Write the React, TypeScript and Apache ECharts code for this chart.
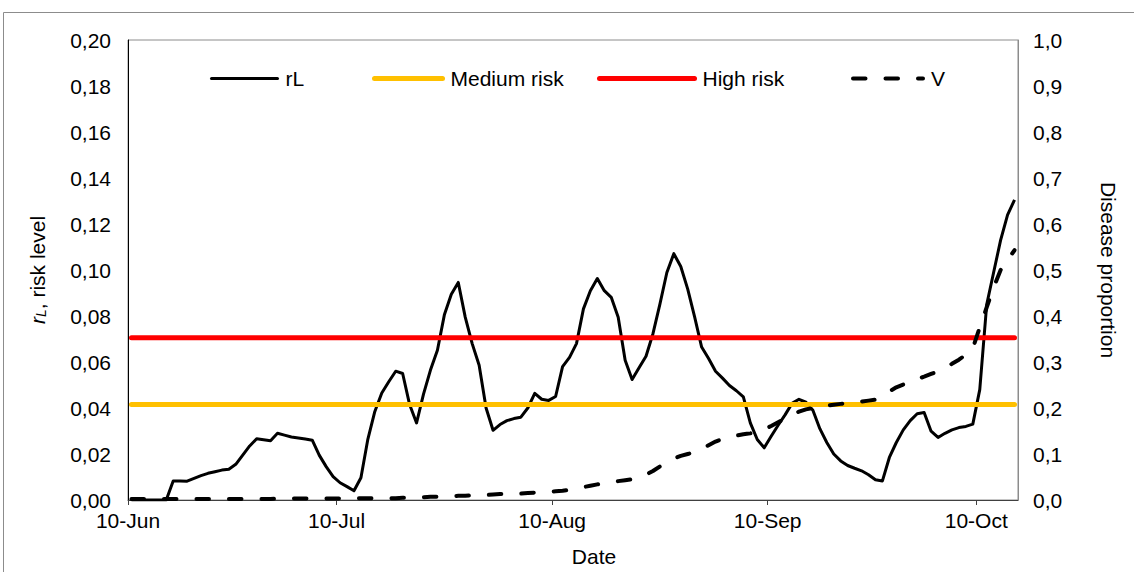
import React, { useEffect, useRef } from 'react';
import * as echarts from 'echarts';

// Day index 0 = 10-Jun, 127 = 15-Oct (daily values)
const tickDays = [0, 30, 61, 92, 122];
const tickLabels = ['10-Jun', '10-Jul', '10-Aug', '10-Sep', '10-Oct'];

const rL = [
  0, 0, 0, 0, 0, 0,
  0.0083, 0.0083, 0.0082, 0.0094, 0.0106,
  0.0116, 0.0123, 0.013, 0.0134, 0.0155,
  0.0195, 0.0235, 0.0266, 0.0262, 0.0258,
  0.029, 0.0282, 0.0274, 0.027, 0.0265,
  0.026, 0.0195, 0.0145, 0.0102, 0.0075,
  0.0058, 0.004, 0.0097, 0.0265, 0.0385,
  0.0465, 0.0514, 0.056, 0.055, 0.0415,
  0.0335, 0.046, 0.0565, 0.0651, 0.0805,
  0.0895, 0.0946, 0.0795, 0.068, 0.0586,
  0.04, 0.0303, 0.0328, 0.0345, 0.0354,
  0.036, 0.04, 0.0464, 0.0438, 0.0433,
  0.045, 0.058, 0.062, 0.068, 0.0831,
  0.091, 0.0963, 0.091, 0.0881, 0.0795,
  0.0608, 0.0524, 0.0575, 0.0625, 0.0723,
  0.0852, 0.0989, 0.1071, 0.1015, 0.0917,
  0.0795, 0.0665, 0.0615, 0.056, 0.053,
  0.0498, 0.0475, 0.0448, 0.0335, 0.0263,
  0.0227, 0.0277, 0.0325, 0.037, 0.042,
  0.0438, 0.0425, 0.039, 0.031, 0.025,
  0.02, 0.017, 0.015, 0.0138, 0.0127,
  0.011, 0.0088, 0.0083, 0.0185, 0.025,
  0.0305, 0.0345, 0.0375, 0.038, 0.0299,
  0.0272, 0.029, 0.0305, 0.0315, 0.032,
  0.033, 0.048, 0.085, 0.099, 0.113,
  0.124, 0.1305,
];

const V = [
  0.002, 0.002, 0.002, 0.002, 0.002, 0.002, 0.002, 0.002, 0.002, 0.002, 0.002,
  0.002, 0.002, 0.002, 0.002, 0.002, 0.002, 0.002, 0.002, 0.002, 0.002,
  0.003, 0.003, 0.003, 0.003, 0.003, 0.003, 0.003, 0.003, 0.003, 0.003,
  0.004, 0.004, 0.004, 0.004, 0.004, 0.004, 0.004, 0.004,
  0.005, 0.005, 0.006, 0.006,
  0.007, 0.007, 0.008, 0.008, 0.009,
  0.009, 0.010, 0.011, 0.011, 0.012,
  0.013, 0.013, 0.014, 0.014, 0.015,
  0.016, 0.017, 0.018, 0.019, 0.020,
  0.022, 0.025, 0.028, 0.031, 0.034,
  0.037, 0.039, 0.041, 0.043, 0.045,
  0.049, 0.055, 0.063, 0.073, 0.082,
  0.090, 0.096, 0.100, 0.104, 0.111,
  0.119, 0.127, 0.133, 0.137, 0.140,
  0.143, 0.145, 0.148, 0.154, 0.161,
  0.169, 0.177, 0.185, 0.192, 0.197,
  0.200, 0.203, 0.205, 0.207, 0.209,
  0.211, 0.212, 0.214, 0.216, 0.218,
  0.226, 0.236, 0.245, 0.251, 0.257,
  0.263, 0.268, 0.274, 0.280, 0.288,
  0.296, 0.305, 0.316, 0.330, 0.375,
  0.419, 0.462, 0.500, 0.522, 0.543,
];

const mediumRisk = 0.0415;
const highRisk = 0.0705;

export default function App() {
  const ref = useRef<HTMLDivElement>(null);
  useEffect(() => {
    document.body.style.margin = '0';
    const chart = echarts.init(ref.current as HTMLDivElement, null, { renderer: 'svg' });
    const font = '"Liberation Sans", Arial, sans-serif';
    const fs = 21;
    const pts = (arr: number[]) => arr.map((v, i) => [i + 0.5, v]);
    const first = 0.5;
    const last = rL.length - 0.5;
    const legendBase = {
      top: 68,
      padding: 0,
      itemHeight: 14,
      itemGap: 0,
      itemStyle: { opacity: 0, borderWidth: 0 },
      textStyle: { fontSize: fs, fontFamily: font, color: '#000', padding: [0, 0, 0, 3] },
    };
    chart.setOption({
      animation: false,
      backgroundColor: '#fff',
      textStyle: { fontFamily: font },
      graphic: [
        {
          type: 'rect',
          shape: { x: 3.5, y: 12.5, width: 1300, height: 800 },
          style: { fill: 'none', stroke: '#8c8c8c', lineWidth: 1 },
          silent: true,
        },
      ],
      legend: [
        { ...legendBase, data: ['rL'], left: 210, itemWidth: 66, lineStyle: { width: 3, cap: 'round' } },
        { ...legendBase, data: ['Medium risk'], left: 372, itemWidth: 68, lineStyle: { width: 5, cap: 'round' } },
        { ...legendBase, data: ['High risk'], left: 597, itemWidth: 95, lineStyle: { width: 5, cap: 'round' } },
        { ...legendBase, data: ['V'], left: 851, itemWidth: 70, lineStyle: { width: 4, cap: 'round', type: [12.5, 20] } },
      ],
      grid: {
        left: 128,
        right: 116,
        top: 40,
        bottom: 68,
        show: true,
        borderColor: '#8c8c8c',
        borderWidth: 1,
        backgroundColor: 'transparent',
      },
      xAxis: {
        type: 'value',
        min: 0,
        max: 128,
        axisLine: { show: true, lineStyle: { color: '#404040', width: 1 } },
        axisTick: { show: true, customValues: tickDays, length: 5, lineStyle: { color: '#404040' } },
        axisLabel: {
          customValues: tickDays,
          formatter: (v: number) => {
            const k = tickDays.indexOf(Math.round(v));
            return k >= 0 ? tickLabels[k] : '';
          },
          fontSize: fs,
          fontFamily: font,
          color: '#000',
          margin: 10,
        },
        splitLine: { show: false },
        name: 'Date',
        nameLocation: 'middle',
        nameGap: 46,
        nameTextStyle: { fontSize: fs, fontFamily: font, color: '#000', padding: [0, 0, 0, 42] },
      },
      yAxis: [
        {
          type: 'value',
          position: 'left',
          min: 0,
          max: 0.2,
          interval: 0.02,
          axisLine: { show: true, lineStyle: { color: '#000', width: 1 } },
          axisTick: { show: false },
          splitLine: { show: false },
          axisLabel: {
            formatter: (v: number) => v.toFixed(2).replace('.', ','),
            fontSize: fs,
            fontFamily: font,
            color: '#000',
            margin: 17,
          },
          name: '{i|r}{s|L}{n|, risk level}',
          nameLocation: 'middle',
          nameRotate: 90,
          nameGap: 80,
          nameTextStyle: {
            rich: {
              i: { fontSize: fs, fontFamily: font, fontStyle: 'italic', color: '#000' },
              s: { fontSize: 14, fontFamily: font, fontStyle: 'italic', color: '#000', verticalAlign: 'bottom', padding: [8, 0, 0, 0] },
              n: { fontSize: fs, fontFamily: font, color: '#000' },
            },
          },
        },
        {
          type: 'value',
          position: 'right',
          min: 0,
          max: 1,
          interval: 0.1,
          axisLine: { show: true, lineStyle: { color: '#8c8c8c', width: 1 } },
          axisTick: { show: false },
          splitLine: { show: false },
          axisLabel: {
            formatter: (v: number) => v.toFixed(1).replace('.', ','),
            fontSize: fs,
            fontFamily: font,
            color: '#000',
            margin: 15,
          },
          name: 'Disease proportion',
          nameLocation: 'middle',
          nameRotate: -90,
          nameGap: 80,
          nameTextStyle: { fontSize: fs, fontFamily: font, color: '#000' },
        },
      ],
      series: [
        {
          name: 'rL',
          type: 'line',
          yAxisIndex: 0,
          data: pts(rL),
          symbol: 'none',
          itemStyle: { color: '#000' },
          lineStyle: { color: '#000', width: 3, join: 'round' },
        },
        {
          name: 'Medium risk',
          type: 'line',
          yAxisIndex: 0,
          data: [[first, mediumRisk], [last, mediumRisk]],
          symbol: 'none',
          itemStyle: { color: '#FFC000' },
          lineStyle: { color: '#FFC000', width: 5, cap: 'round' },
        },
        {
          name: 'High risk',
          type: 'line',
          yAxisIndex: 0,
          data: [[first, highRisk], [last, highRisk]],
          symbol: 'none',
          itemStyle: { color: '#FF0000' },
          lineStyle: { color: '#FF0000', width: 5, cap: 'round' },
        },
        {
          name: 'V',
          type: 'line',
          yAxisIndex: 1,
          data: pts(V),
          symbol: 'none',
          itemStyle: { color: '#000' },
          lineStyle: { color: '#000', width: 4, type: [12.5, 20], cap: 'round' },
        },
      ],
    });
    return () => chart.dispose();
  }, []);
  return <div ref={ref} style={{ width: 1134, height: 572 }} />;
}
